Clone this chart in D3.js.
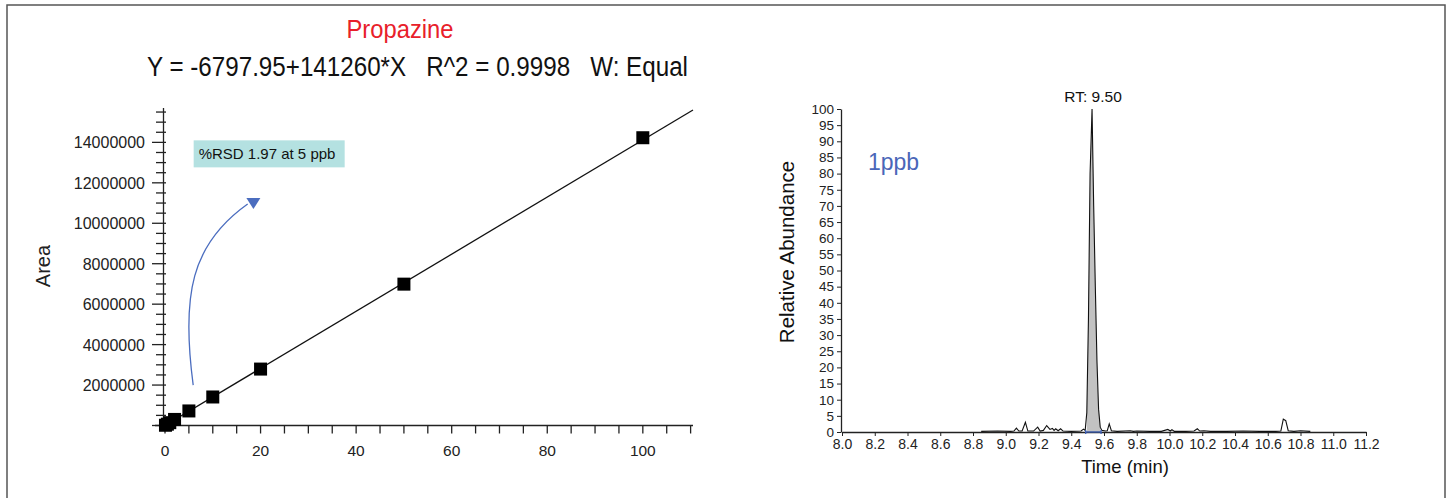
<!DOCTYPE html>
<html>
<head>
<meta charset="utf-8">
<title>Propazine calibration</title>
<script src="https://d3js.org/d3.v7.min.js"></script>
<style>
  body { margin: 0; background: white; font-family: "Liberation Sans", Arial, sans-serif; }
  svg text { font-family: "Liberation Sans", Arial, sans-serif; }
  .pre { white-space: pre; }
  .rx text { font-size: 14px; }
  .ry text { font-size: 13.5px; }
</style>
</head>
<body>
<script>
// calibration levels (ppb) and measured areas
var calLevels = [0.1, 0.5, 1, 2, 5, 10, 20, 50, 100];
var calAreas = [12000, 65000, 140000, 300000, 720000, 1410000, 2790000, 6990000, 14230000];
var intercept = -6797.95, slope = 141260;
var calXTicks = [0, 20, 40, 60, 80, 100];
var calYTicks = [2000000, 4000000, 6000000, 8000000, 10000000, 12000000, 14000000];

// chromatogram trace (time in min, relative abundance %)
var rtTimes = [8.85, 8.95, 9.03, 9.05, 9.065, 9.08, 9.10, 9.12, 9.135, 9.17, 9.195, 9.21, 9.23, 9.25, 9.27, 9.285, 9.295, 9.305, 9.32, 9.335, 9.35, 9.40, 9.46, 9.475,
  9.485, 9.495, 9.505, 9.515, 9.527, 9.537, 9.547, 9.557, 9.567, 9.577, 9.587,
  9.61, 9.62, 9.632, 9.645, 9.68, 9.76, 9.78, 9.80, 9.88, 9.95, 9.99, 10.005, 10.015, 10.03, 10.05, 10.10, 10.15, 10.17, 10.185, 10.21, 10.25, 10.35, 10.45, 10.55, 10.65, 10.68, 10.695, 10.71, 10.725, 10.76, 10.80, 10.86];
var rtAbund = [0.2, 0.3, 0.2, 0.3, 1.2, 0.3, 0.3, 3.0, 0.3, 0.3, 1.5, 0.3, 0.5, 2.0, 0.8, 1.1, 0.5, 1.0, 0.4, 1.0, 0.3, 0.2, 0.3, 0.9,
  0.5, 6, 35, 80, 100, 70, 45, 22, 7, 1.5, 0.5,
  0.3, 0.4, 2.5, 0.4, 0.2, 0.4, 0.2, 0.3, 0.2, 0.2, 0.8, 0.3, 0.7, 0.2, 0.2, 0.2, 0.3, 1.0, 0.3, 0.4, 0.2, 0.2, 0.3, 0.2, 0.2, 0.3, 4.0, 3.5, 0.4, 0.2, 0.4, 0.2];
var peakStart = 9.488, peakEnd = 9.582, peakRT = 9.527;

var width = 1453, height = 498;
var svg = d3.select("body").append("svg").attr("width", width).attr("height", height);

// outer frame
svg.append("rect").attr("x", 7).attr("y", 5).attr("width", 1438).attr("height", 520)
   .attr("fill", "none").attr("stroke", "#555").attr("stroke-width", 1.5);

// ---------- left: calibration curve ----------
var x1 = d3.scaleLinear().domain([0, 110.5]).range([165, 693]);
var y1 = d3.scaleLinear().domain([0, 15700000]).range([425.5, 108]);

svg.append("text").attr("x", 400).attr("y", 38).attr("text-anchor", "middle")
   .attr("font-size", 25).attr("fill", "#e8202a")
   .attr("textLength", 107).attr("lengthAdjust", "spacingAndGlyphs").text("Propazine");

svg.append("text").attr("class", "pre").attr("x", 147).attr("y", 76)
   .attr("font-size", 27).attr("fill", "#111")
   .attr("textLength", 541).attr("lengthAdjust", "spacingAndGlyphs")
   .text("Y = -6797.95+141260*X   R^2 = 0.9998   W: Equal");

// y axis
var gy = svg.append("g").attr("stroke", "#222").attr("stroke-width", 1.3);
gy.append("line").attr("x1", x1(0) - 1.5).attr("x2", x1(0) - 1.5).attr("y1", y1.range()[0]).attr("y2", y1.range()[1]);
gy.selectAll("line.minor").data(d3.range(0, 15700001, 500000)).enter().append("line")
  .attr("x1", function(d){ return d % 2000000 === 0 ? x1(0) - 13 : x1(0) - 9; })
  .attr("x2", x1(0) + 1)
  .attr("y1", function(d){ return y1(d); }).attr("y2", function(d){ return y1(d); });
svg.selectAll("text.ylab").data(calYTicks).enter().append("text")
   .attr("x", 145).attr("y", function(d){ return y1(d) + 6; })
   .attr("text-anchor", "end").attr("font-size", 16).attr("fill", "#222")
   .text(function(d){ return d; });

// x axis
var gx = svg.append("g").attr("stroke", "#222").attr("stroke-width", 1.3);
gx.append("line").attr("x1", x1(0) - 10).attr("x2", x1(110.5)).attr("y1", y1(0)).attr("y2", y1(0));
gx.selectAll("line.t").data(d3.range(0, 111, 5)).enter().append("line")
  .attr("x1", function(d){ return x1(d); }).attr("x2", function(d){ return x1(d); })
  .attr("y1", y1(0)).attr("y2", y1(0) + 8);
svg.selectAll("text.xlab").data(calXTicks).enter().append("text")
   .attr("x", function(d){ return x1(d); }).attr("y", 456)
   .attr("text-anchor", "middle").attr("font-size", 15.5).attr("fill", "#222")
   .text(function(d){ return d; });

svg.append("text").attr("transform", "translate(50,266) rotate(-90)")
   .attr("text-anchor", "middle").attr("font-size", 20).attr("fill", "#222").text("Area");

// regression line
svg.append("line")
   .attr("x1", x1(0)).attr("y1", y1(Math.max(0, intercept)))
   .attr("x2", x1(110.5)).attr("y2", y1(intercept + slope * 110.5))
   .attr("stroke", "#111").attr("stroke-width", 1.3);

// calibration points
svg.selectAll("rect.pt").data(calLevels).enter().append("rect")
   .attr("x", function(d){ return x1(d) - 6.5; })
   .attr("y", function(d, i){ return y1(calAreas[i]) - 6.5; })
   .attr("width", 13).attr("height", 13).attr("fill", "#000");

// annotation box
svg.append("rect").attr("x", x1(6)).attr("y", y1(14100000))
   .attr("width", 151).attr("height", 27).attr("fill", "#b4e1e1");
svg.append("text").attr("x", x1(6) + 5).attr("y", y1(14100000) + 19)
   .attr("font-size", 15).attr("fill", "#111").text("%RSD 1.97 at 5 ppb");

// curved arrow
var ax0 = x1(5.9), ay0 = y1(2000000), ax1 = x1(17.3), ay1 = y1(10950000);
svg.append("path")
   .attr("d", "M" + ax0 + "," + ay0 + " C" + (ax0 - 12) + "," + (ay0 - 90) + " " + (ax0 - 2) + "," + (ay1 + 40) + " " + ax1 + "," + ay1)
   .attr("fill", "none").attr("stroke", "#4b6dbf").attr("stroke-width", 1.3);
var tx = x1(18.5), ty = y1(10700000);
svg.append("path")
   .attr("d", "M" + (tx - 7) + "," + (ty - 11) + " L" + (tx + 7) + "," + (ty - 11) + " L" + tx + "," + ty + "Z")
   .attr("fill", "#4b6dbf");

// ---------- right: chromatogram ----------
var x2 = d3.scaleLinear().domain([8.0, 11.2]).range([842, 1366]);
var y2 = d3.scaleLinear().domain([0, 100]).range([432, 109]);
var trace = rtTimes.map(function(t, i){ return [t, rtAbund[i]]; });

// peak area fill
var peakPts = trace.filter(function(d){ return d[0] >= peakStart && d[0] <= peakEnd; });
svg.append("path").datum(peakPts)
   .attr("d", d3.area().x(function(d){ return x2(d[0]); }).y0(y2(0)).y1(function(d){ return y2(d[1]); }))
   .attr("fill", "#c2c2c2");

var ax = svg.append("g").attr("class", "rx").attr("transform", "translate(0," + y2(0) + ")")
   .call(d3.axisBottom(x2).tickValues(d3.range(8.0, 11.21, 0.2)).tickFormat(d3.format(".1f")).tickSize(4).tickSizeOuter(0));
ax.select(".domain").attr("stroke", "#222").attr("stroke-width", 1.3);
ax.selectAll("line").attr("stroke", "#222");
ax.selectAll("text").attr("fill", "#222").attr("dy", "0.72em");

var ay = svg.append("g").attr("class", "ry").attr("transform", "translate(" + (x2(8.0) - 1) + ",0)")
   .call(d3.axisLeft(y2).tickValues(d3.range(0, 101, 5)).tickSize(4).tickSizeOuter(0));
ay.select(".domain").attr("stroke", "#222").attr("stroke-width", 1.3);
ay.selectAll("line").attr("stroke", "#222");
ay.selectAll("text").attr("fill", "#222");

// trace
svg.append("path").datum(trace)
   .attr("d", d3.line().x(function(d){ return x2(d[0]); }).y(function(d){ return y2(d[1]); }))
   .attr("fill", "none").attr("stroke", "#111").attr("stroke-width", 1.1);

// integration baseline
svg.append("line").attr("x1", x2(peakStart)).attr("x2", x2(peakEnd))
   .attr("y1", y2(0)).attr("y2", y2(0)).attr("stroke", "#3d5fb5").attr("stroke-width", 1.3);
[peakStart, peakEnd].forEach(function(t){
  svg.append("line").attr("x1", x2(t)).attr("x2", x2(t)).attr("y1", y2(0) - 2).attr("y2", y2(0) + 2)
     .attr("stroke", "#3d5fb5").attr("stroke-width", 1.3);
});

svg.append("text").attr("x", x2(peakRT) + 1).attr("y", 102).attr("text-anchor", "middle")
   .style("font-size", "15.5px").attr("fill", "#111").text("RT: 9.50");

svg.append("text").attr("x", 868).attr("y", 170).attr("font-size", 23).attr("fill", "#4a66b8").text("1ppb");

svg.append("text").attr("transform", "translate(794,252) rotate(-90)")
   .attr("text-anchor", "middle").attr("font-size", 20.5).attr("fill", "#111").text("Relative Abundance");
svg.append("text").attr("x", 1125).attr("y", 473).attr("text-anchor", "middle")
   .attr("font-size", 18.5).attr("fill", "#111").text("Time (min)");
</script>
</body>
</html>
